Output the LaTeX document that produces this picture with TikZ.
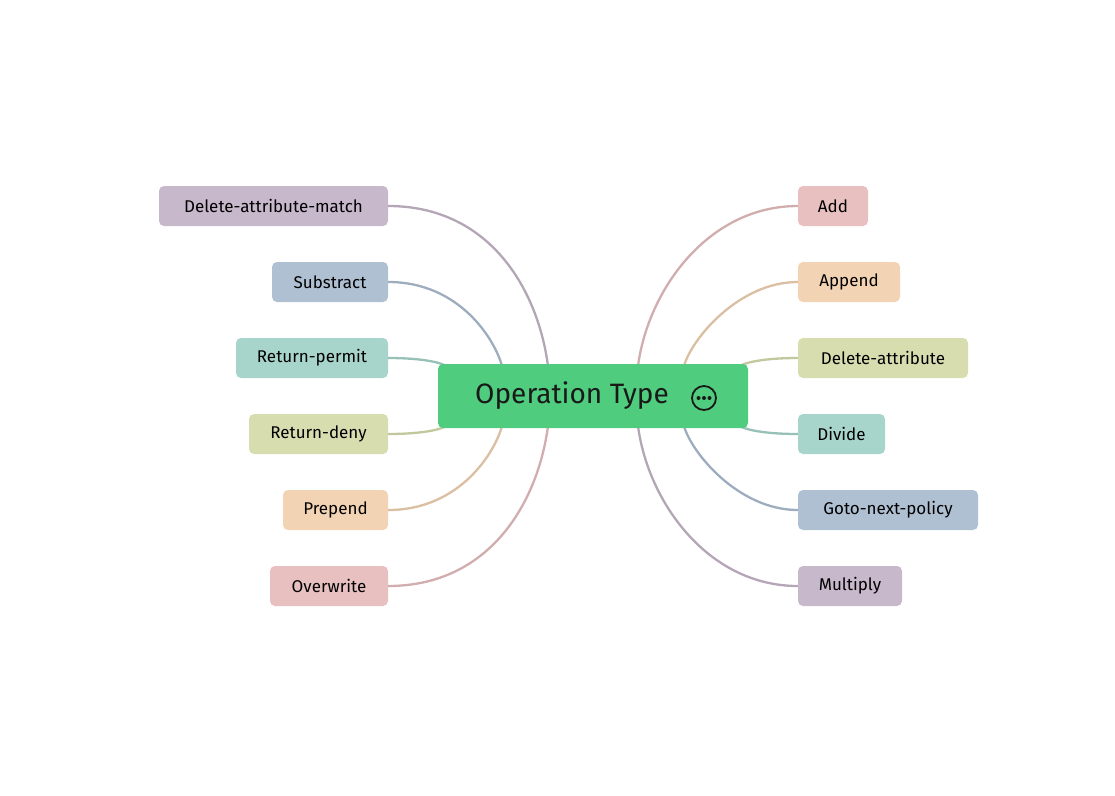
\documentclass[tikz,border=0pt]{standalone}
\usepackage{fontspec}
\setmainfont{Fira Sans}
\usetikzlibrary{calc}
\begin{document}
\begin{tikzpicture}[x=1pt,y=-1pt,
  leaf/.style={rounded corners=5pt,minimum height=40pt,inner xsep=0pt,font=\fontsize{17}{20}\selectfont,text=black,anchor=center},
  con/.style={line width=2.3pt}]
\useasboundingbox (0,0) rectangle (1115,795);
\definecolor{cpur}{HTML}{C8B8CB}\definecolor{cblu}{HTML}{B0C0D3}
\definecolor{cgrn}{HTML}{A8D5CB}\definecolor{cyel}{HTML}{D8DDB0}
\definecolor{cora}{HTML}{F2D4B4}\definecolor{cred}{HTML}{E8C0C0}
\definecolor{cmain}{HTML}{4FCC7E}
% left
\node[leaf,fill=cpur,minimum width=229pt] (l1) at (273.5,206) {Delete-attribute-match};
\node[leaf,fill=cblu,minimum width=116pt] (l2) at (330,282) {Substract};
\node[leaf,fill=cgrn,minimum width=152pt] (l3) at (312,358) {Return-permit};
\node[leaf,fill=cyel,minimum width=139pt] (l4) at (318.5,434) {Return-deny};
\node[leaf,fill=cora,minimum width=105pt] (l5) at (335.5,510) {Prepend};
\node[leaf,fill=cred,minimum width=118pt] (l6) at (329,586) {Overwrite};
% right
\node[leaf,fill=cred,minimum width=70pt] (r1) at (833,206) {Add};
\node[leaf,fill=cora,minimum width=102pt] (r2) at (849,282) {Append};
\node[leaf,fill=cyel,minimum width=170pt] (r3) at (883,358) {Delete-attribute};
\node[leaf,fill=cgrn,minimum width=87pt] (r4) at (841.5,434) {Divide};
\node[leaf,fill=cblu,minimum width=180pt] (r5) at (888,510) {Goto-next-policy};
\node[leaf,fill=cpur,minimum width=104pt] (r6) at (850,586) {Multiply};
% endpoints on centre
\coordinate (a1) at (548,366); \coordinate (a2) at (502,366); \coordinate (a3) at (446,366);
\coordinate (a4) at (446,426); \coordinate (a5) at (502,426); \coordinate (a6) at (548,426);
\coordinate (b1) at (638,366); \coordinate (b2) at (684,366); \coordinate (b3) at (740,366);
\coordinate (b4) at (740,426); \coordinate (b5) at (684,426); \coordinate (b6) at (638,426);
\draw[con,cpur!90!black] (l1.east) .. controls (490,206) and (538,290) .. (a1);
\draw[con,cblu!90!black] (l2.east) .. controls (460,282) and (495,340) .. (a2);
\draw[con,cgrn!90!black] (l3.east) .. controls (420,358) and (440,362) .. (a3);
\draw[con,cyel!90!black] (l4.east) .. controls (420,434) and (440,430) .. (a4);
\draw[con,cora!90!black] (l5.east) .. controls (460,510) and (495,452) .. (a5);
\draw[con,cred!90!black] (l6.east) .. controls (490,586) and (538,502) .. (a6);
\draw[con,cred!90!black] (r1.west) .. controls (708,206) and (648,290) .. (b1);
\draw[con,cora!90!black] (r2.west) .. controls (738,282) and (691,340) .. (b2);
\draw[con,cyel!90!black] (r3.west) .. controls (766,358) and (746,362) .. (b3);
\draw[con,cgrn!90!black] (r4.west) .. controls (766,434) and (746,430) .. (b4);
\draw[con,cblu!90!black] (r5.west) .. controls (738,510) and (691,452) .. (b5);
\draw[con,cpur!90!black] (r6.west) .. controls (708,586) and (648,502) .. (b6);
% centre
\node[fill=cmain,rounded corners=5pt,minimum width=310pt,minimum height=64pt] (c) at (593,396) {};
\node[font=\fontsize{28}{32}\selectfont,text=black!90,anchor=center] (ct) at (572,396) {Operation Type};
\node[draw=black!90,line width=1.8pt,circle,minimum size=24pt,inner sep=0pt] (ic) at (704,398) {};
\foreach \dx in {-5.5,0,5.5} \fill[black!90] ($(ic.center)+(\dx,0)$) circle (2pt);
\end{tikzpicture}
\end{document}
